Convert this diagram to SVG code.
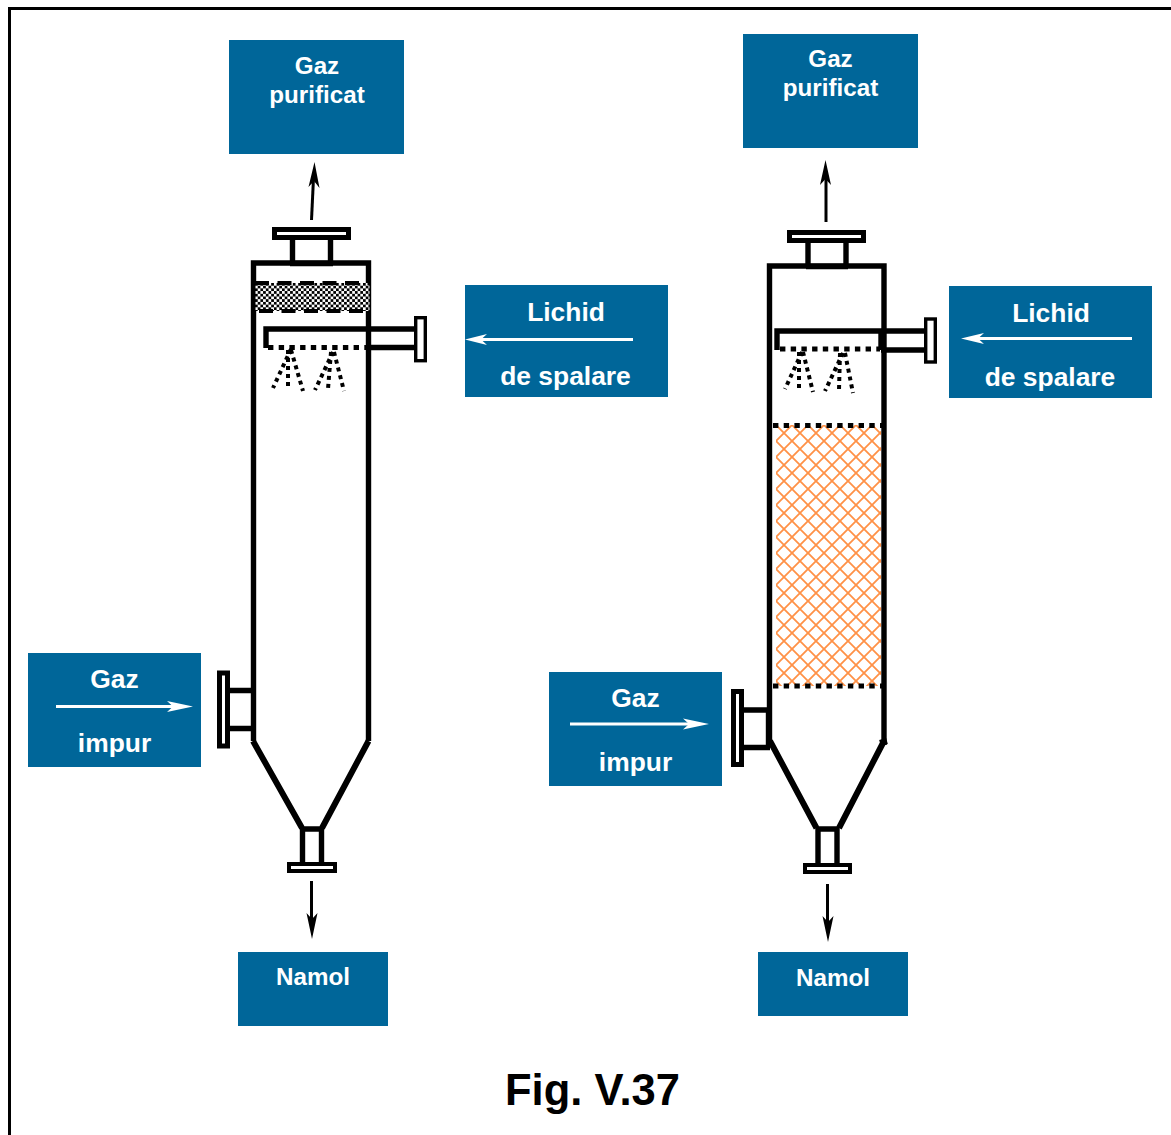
<svg xmlns="http://www.w3.org/2000/svg" width="1171" height="1135" viewBox="0 0 1171 1135">
<style>
.box{fill:#006699}
.lbl{font-family:"Liberation Sans",Arial,sans-serif;font-weight:700;font-size:24.2px;fill:#fff;text-anchor:middle}
.big{font-size:26.4px}
.w{fill:none;stroke:#000;stroke-width:5.4}
.c{fill:none;stroke:#000;stroke-width:6}
.fl{fill:#fff;stroke:#000;stroke-width:5}
.fn{fill:#fff;stroke:#000;stroke-width:3.4}
.fb{fill:#fff;stroke:#000;stroke-width:4}
.dot{fill:none;stroke:#000;stroke-width:5.2;stroke-dasharray:5.4 5.3}
.dash{fill:none;stroke:#000;stroke-width:4;stroke-dasharray:14 8.5}
.spr{fill:none;stroke:#000;stroke-width:4;stroke-dasharray:4 4}
.arr{fill:none;stroke:#000;stroke-width:3}
.warr{fill:none;stroke:#fff;stroke-width:3}
.head{fill:#000}
.whead{fill:#fff}
</style>
<defs>
<pattern id="chk" width="5.4" height="5.4" patternUnits="userSpaceOnUse" x="255" y="283"><rect width="5.4" height="5.4" fill="#fff"/><rect width="2.7" height="2.7" fill="#000"/><rect x="2.7" y="2.7" width="2.7" height="2.7" fill="#000"/></pattern>
<pattern id="xh" width="16" height="16" patternUnits="userSpaceOnUse" x="776" y="425"><path d="M0 0L16 16M16 0L0 16" stroke="#FF9147" stroke-width="1.8" fill="none"/></pattern>
</defs>
<rect width="1171" height="1135" fill="#fff"/>
<path id="frame" d="M1171 8.500H9.500V1135" fill="none" stroke="#000" stroke-width="3"/>
<g id="column-left">
<path class="w" d="M253.500 741V263H368.500V741"/>
<path class="c" d="M253 741L302 828M368.500 741L322 828"/>
<rect x="255.500" y="283" width="114" height="28" fill="url(#chk)"/>
<path class="dash" d="M255 283H369M259 311H369"/>
<path class="w" d="M292.500 240V263M330.500 240V263M290 263.500H333"/>
<rect class="fl" x="274.500" y="229.500" width="74" height="8"/>
<path class="w" d="M302.500 828V864M321.500 828V864M300 829H324"/>
<rect class="fb" x="289" y="864" width="46" height="7"/>
<path class="w" d="M229 690.500H253M229 728.500H253"/>
<rect class="fl" x="219.500" y="673" width="8" height="73"/>
<path class="w" d="M266 348V329H415M368 347.500H415"/>
<path class="dot" d="M268 347.500H368"/>
<rect class="fn" x="415.700" y="317.700" width="9.600" height="43"/>
<path class="spr" d="M291 349L273 388M288 350V388M291 350L303 391M333 352L315 390M331 352L328 389M334 352L344 391"/>
</g>
<g id="column-right">
<rect x="776" y="425" width="105" height="261" fill="url(#xh)"/>
<path class="w" d="M769.500 741V266H884V745"/>
<path class="c" d="M770 741L816.500 828M884 741L839 828M880 743L887 741"/>
<path class="w" d="M808 243V266M846 243V266M806 266.500H848"/>
<rect class="fl" x="789.500" y="232.500" width="74" height="8"/>
<path class="w" d="M818 828V864M837 828V864M816 829H839"/>
<rect class="fb" x="805" y="865" width="45" height="7"/>
<path class="w" d="M744 710H770M744 747.500H770M768.500 710V745"/>
<rect class="fl" x="733.500" y="691.500" width="8" height="73"/>
<path class="w" d="M777 350V331H925M881 331V350M881 350H925"/>
<path class="dot" d="M780 349H880M773 425.500H884M773 686H884"/>
<rect class="fn" x="925.700" y="319" width="9.600" height="43"/>
<path class="spr" d="M802 352L785 389M799 352V389M803 352L813 392M843 353L825 391M840 353L839 390M845 353L853 393"/>
</g>
<g id="connectors">
<path class="arr" d="M311.500 220L313.500 178"/><path class="head" d="M314.500 162L319.500 188L314 181L308.500 187Z"/>
<path class="arr" d="M826 222V178"/><path class="head" d="M825.500 160L831 185L825.500 179L820 185Z"/>
<path class="arr" d="M311.500 881V920"/><path class="head" d="M312 939L306.500 913L312 919L317.500 913Z"/>
<path class="arr" d="M827.500 884V923"/><path class="head" d="M828 942L822.500 916L828 922L833.500 916Z"/>
</g>
<g id="box-gaz-purificat-1"><rect class="box" x="229" y="40" width="175" height="114"/><text class="lbl" x="317" y="73.500">Gaz</text><text class="lbl" x="317" y="102.500">purificat</text></g>
<g id="box-gaz-purificat-2"><rect class="box" x="743" y="34" width="175" height="114"/><text class="lbl" x="830.500" y="67">Gaz</text><text class="lbl" x="830.500" y="96">purificat</text></g>
<g id="box-lichid-1"><rect class="box" x="465" y="285" width="203" height="112"/><text class="lbl big" x="566" y="321">Lichid</text><path class="warr" d="M633 339.500H480"/><path class="whead" d="M465 339.500L487 334L481 339.500L487 345Z"/><text class="lbl big" x="565.500" y="385">de spalare</text></g>
<g id="box-lichid-2"><rect class="box" x="949" y="286" width="203" height="112"/><text class="lbl big" x="1051" y="322">Lichid</text><path class="warr" d="M1132 338.500H975"/><path class="whead" d="M961 338.500L984 333L978 338.500L984 344Z"/><text class="lbl big" x="1050" y="386">de spalare</text></g>
<g id="box-gaz-impur-1"><rect class="box" x="28" y="653" width="173" height="114"/><text class="lbl big" x="114.500" y="688">Gaz</text><path class="warr" d="M56 706.500H180"/><path class="whead" d="M193 706.500L167 701L173 706.500L167 712Z"/><text class="lbl big" x="114.500" y="752">impur</text></g>
<g id="box-gaz-impur-2"><rect class="box" x="549" y="672" width="173" height="114"/><text class="lbl big" x="635.500" y="707">Gaz</text><path class="warr" d="M570 724H696"/><path class="whead" d="M709 724L683 718.500L689 724L683 729.500Z"/><text class="lbl big" x="635.500" y="771">impur</text></g>
<g id="box-namol-1"><rect class="box" x="238" y="952" width="150" height="74"/><text class="lbl" x="313" y="985">Namol</text></g>
<g id="box-namol-2"><rect class="box" x="758" y="952" width="150" height="64"/><text class="lbl" x="833" y="986">Namol</text></g>
<text id="caption" x="592.500" y="1105" style="font-family:'Liberation Sans',Arial,sans-serif;font-weight:700;font-size:43.500px;text-anchor:middle;fill:#000">Fig. V.37</text>
</svg>
